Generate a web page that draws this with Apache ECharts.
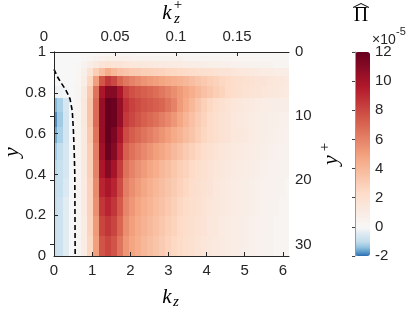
<!DOCTYPE html>
<html><head><meta charset="utf-8">
<script src="https://cdn.jsdelivr.net/npm/echarts@6/dist/echarts.min.js"></script>
<style>html,body{margin:0;padding:0;background:#fff}#c{width:415px;height:312px}</style>
</head><body><div id="c"></div>
<script>
// spanwise wavenumber (cell centres)
const kz = [0,0.157,0.314,0.471,0.628,0.785,0.942,1.100,1.257,1.414,1.571,1.728,1.885,2.042,2.199,2.356,2.513,2.670,2.827,2.985,3.142,3.299,3.456,3.613,3.770,3.927,4.084,4.241,4.398,4.555,4.712,4.869,5.027,5.184,5.341,5.498,5.655,5.812,5.969,6.126];
// wall-normal cell edges (top to bottom)
const yEdges = [1,0.9952,0.9808,0.9569,0.9239,0.8819,0.8315,0.7730,0.7071,0.6344,0.5556,0.4714,0.3827,0.2903,0.1951,0.0980,0];
const kzMax = 6.16, kzPlusMax = 0.1926, yPlusMax = 31.8;
const xTicks = 1, xPlusTicks = 0.05, yTicks = 0.2, yPlusTicks = 10;
const cbarMin = -2, cbarMax = 12, cbarTicks = 2;

// Pi-hat values (x1e-5), rows from the wall (y=1) down to y=0
const r00 = [0,0,0,0,0,0,0.1,0.1,0.1,0.1,0.1,0.1,0.1,0.1,0.1,0.1,0.1,0.1,0.1,0.1,0.1,0.1,0.1,0.1,0.1,0.1,0.1,0.1,0.1,0,0,0,0,0,0,0,0,0,0,0];
const r01 = [0,0,0,0,0,0.1,0.1,0.2,0.3,0.3,0.3,0.3,0.3,0.3,0.2,0.2,0.2,0.2,0.2,0.2,0.2,0.2,0.2,0.2,0.1,0.1,0.1,0.1,0.1,0.1,0.1,0.1,0.1,0.1,0.1,0.1,0.1,0.1,0.1,0.1];
const r02 = [0,0,0,0,0,0.2,0.3,0.5,0.6,0.7,0.6,0.6,0.6,0.5,0.5,0.5,0.5,0.4,0.4,0.4,0.4,0.4,0.3,0.3,0.3,0.3,0.3,0.3,0.2,0.2,0.2,0.2,0.2,0.2,0.2,0.1,0.1,0.1,0.1,0.1];
const r03 = [0,0,0,0,0.1,0.4,0.8,1.2,1.6,1.8,1.7,1.6,1.5,1.4,1.3,1.3,1.2,1.2,1.1,1.1,1.0,1.0,0.9,0.9,0.8,0.8,0.7,0.7,0.6,0.6,0.5,0.5,0.5,0.4,0.4,0.4,0.4,0.3,0.3,0.3];
const r04 = [0,0,0,0,0.2,0.7,1.8,3.0,3.8,4.5,4.0,3.6,3.4,3.2,3.1,3.0,2.9,2.8,2.7,2.6,2.5,2.4,2.3,2.2,2.1,2.0,1.9,1.8,1.7,1.6,1.5,1.4,1.3,1.2,1.1,1.0,1.0,0.9,0.9,0.8];
const r05 = [0,0,0,0,0.2,0.9,2.6,5.0,7.5,8.5,8.0,7.0,6.4,6.0,5.7,5.4,5.2,5.0,4.8,4.6,4.4,4.2,4.0,3.7,3.4,3.2,3.0,2.8,2.6,2.4,2.2,2.0,1.9,1.8,1.7,1.6,1.5,1.4,1.3,1.2];
const r06 = [-0.3,-0.2,-0.1,0,0.3,1.2,3.2,6.5,9.8,11.0,11.0,9.8,8.2,7.7,7.4,7.2,7.0,6.7,6.4,6.0,5.6,5.2,4.8,4.4,4.0,3.6,3.3,3.0,2.7,2.4,2.2,2.0,1.8,1.7,1.6,1.5,1.4,1.3,1.2,1.1];
const r07 = [-1.5,-1.2,-0.6,0,0.3,1.3,3.4,6.8,10.5,12.0,11.8,10.5,8.8,8.2,7.9,7.6,7.4,7.2,7.0,6.5,6.0,5.2,4.6,4.0,3.4,2.9,2.5,2.2,1.9,1.7,1.5,1.3,1.2,1.1,1.0,0.9,0.9,0.8,0.8,0.8];
const r08 = [-1.8,-1.3,-0.7,0,0.3,1.3,3.4,6.8,10.5,12.0,11.8,10.5,8.5,8.0,7.6,7.2,6.9,6.6,6.2,5.8,5.3,4.7,4.1,3.6,3.1,2.7,2.3,2.0,1.8,1.6,1.4,1.2,1.1,1.0,0.9,0.8,0.7,0.7,0.6,0.6];
const r09 = [-1.6,-1.2,-0.7,0,0.3,1.2,3.2,6.5,10.5,12.0,11.3,9.8,7.9,7.3,6.9,6.5,6.2,5.8,5.4,5.0,4.6,4.2,3.8,3.4,3.0,2.6,2.3,2.0,1.8,1.6,1.4,1.3,1.2,1.0,0.9,0.8,0.7,0.6,0.6,0.5];
const r10 = [-1.3,-1.0,-0.6,0,0.3,1.2,3.0,6.2,10.2,11.8,11.0,9.2,7.2,6.6,6.2,5.8,5.4,5.0,4.7,4.3,3.9,3.5,3.1,2.8,2.5,2.2,1.9,1.7,1.5,1.3,1.2,1.1,1.0,0.9,0.8,0.7,0.6,0.5,0.5,0.4];
const r11 = [-1.1,-0.9,-0.6,0,0.3,1.2,2.9,6.0,9.8,11.0,10.0,8.4,6.6,6.0,5.5,5.1,4.7,4.4,4.0,3.7,3.3,3.0,2.7,2.4,2.1,1.9,1.7,1.5,1.3,1.2,1.1,1.0,0.9,0.8,0.7,0.6,0.5,0.5,0.4,0.4];
const r12 = [-1.0,-0.9,-0.5,0,0.3,1.1,2.8,5.7,9.2,9.8,9.2,7.9,6.2,5.6,5.1,4.7,4.3,4.0,3.7,3.4,3.1,2.8,2.5,2.2,2.0,1.8,1.6,1.4,1.2,1.1,1.0,0.9,0.8,0.7,0.6,0.5,0.5,0.4,0.4,0.3];
const r13 = [-1.0,-0.8,-0.4,0,0.3,1.1,2.8,5.5,8.6,9.2,8.6,7.4,5.9,5.3,4.8,4.4,4.1,3.8,3.5,3.2,2.9,2.6,2.3,2.1,1.9,1.7,1.5,1.3,1.2,1.1,1.0,0.9,0.8,0.7,0.6,0.5,0.4,0.4,0.3,0.3];
const r14 = [-0.9,-0.8,-0.4,0,0.3,1.0,2.7,5.2,8.1,8.6,8.1,7.0,5.6,5.0,4.6,4.2,3.9,3.6,3.3,3.0,2.7,2.4,2.2,2.0,1.8,1.6,1.4,1.3,1.1,1.0,0.9,0.8,0.7,0.6,0.5,0.5,0.4,0.3,0.3,0.3];
const r15 = [-0.9,-0.8,-0.4,0,0.3,1.0,2.6,5.0,7.6,8.1,7.6,6.5,5.3,4.8,4.4,4.0,3.7,3.4,3.1,2.8,2.5,2.3,2.1,1.9,1.7,1.5,1.3,1.2,1.1,1.0,0.9,0.8,0.7,0.6,0.5,0.4,0.4,0.3,0.3,0.3];

// dashed curve
const curveKz = [0,0.1,0.2,0.29,0.36,0.42,0.48,0.51,0.53,0.545,0.55,0.555];
const curveY  = [0.915,0.875,0.845,0.82,0.795,0.77,0.71,0.61,0.51,0.4,0.2,0];

const rows = [r00,r01,r02,r03,r04,r05,r06,r07,r08,r09,r10,r11,r12,r13,r14,r15];
const cells = [];
rows.forEach((row, r) => {
  row.forEach((v, n) => {
    const xl = n === 0 ? 0 : (kz[n-1] + kz[n]) / 2;
    const xr = n === kz.length - 1 ? kzMax : Math.min(kzMax, (kz[n] + kz[n+1]) / 2);
    cells.push([xl, xr, yEdges[r+1], yEdges[r], v]);
  });
});
const curve = curveKz.map((k, i) => [k, curveY[i]]);

// colormap (style)
const anchors = [
  [-2,[44,108,176]],[-1.7,[95,160,205]],[-1.4,[148,196,223]],[-1.0,[197,222,237]],
  [-0.5,[219,233,242]],[-0.2,[240,243,245]],[0,[247,247,247]],[2.4,[253,219,199]],
  [4.8,[244,165,130]],[7.2,[214,96,77]],[9.6,[178,24,43]],[12,[103,0,31]]
];
function cm(v){
  for (let i=0;i<anchors.length-1;i++){
    const a=anchors[i], b=anchors[i+1];
    if (v>=a[0]-1e-9 && v<=b[0]+1e-9){
      const t=(v-a[0])/(b[0]-a[0]);
      const c=a[1].map((x,j)=>Math.round(x+(b[1][j]-x)*t));
      return 'rgb('+c.join(',')+')';
    }
  }
  return 'rgb(103,0,31)';
}
const cmap=[]; for(let s=0;s<=140;s++){ cmap.push(cm(cbarMin + s*(cbarMax-cbarMin)/140)); }

const axCol = '#262626';
const lab = {color:axCol, fontFamily:'Liberation Sans', fontSize:15};
const line = {show:true, lineStyle:{color:axCol, width:1}};
const tick = {show:true, inside:true, length:4, lineStyle:{color:axCol, width:1}};
const serif = 'Liberation Serif';

const chart = echarts.init(document.getElementById('c'), null, {renderer:'canvas'});
chart.setOption({
  animation:false,
  backgroundColor:'#fff',
  grid:[
    {left:54, top:52, width:235, height:204},
    {left:355, top:52, width:15, height:204}
  ],
  xAxis:[
    {gridIndex:0, type:'value', min:0, max:kzMax, interval:xTicks, position:'bottom', z:10,
     axisLine:line, axisTick:tick, splitLine:{show:false},
     axisLabel:Object.assign({margin:7, showMaxLabel:false}, lab)},
    {gridIndex:0, type:'value', min:0, max:kzPlusMax, interval:xPlusTicks, position:'top', z:10,
     axisLine:line, axisTick:tick, splitLine:{show:false},
     axisLabel:Object.assign({margin:8, showMaxLabel:false,
       formatter:v => v === 0 ? '{a|0}' : String(v),
       rich:{a:{fontFamily:'Liberation Sans', fontSize:15, color:axCol, padding:[0,20,0,0]}}}, lab)},
    {gridIndex:1, type:'value', min:0, max:1, show:false}
  ],
  yAxis:[
    {gridIndex:0, type:'value', min:0, max:1, interval:yTicks, position:'left', z:10,
     axisLine:line, axisTick:tick, splitLine:{show:false},
     axisLabel:Object.assign({margin:8}, lab)},
    {gridIndex:0, type:'value', min:0, max:yPlusMax, interval:yPlusTicks, inverse:true, position:'right', z:10,
     axisLine:line, axisTick:tick, splitLine:{show:false},
     axisLabel:Object.assign({margin:6, showMaxLabel:false}, lab)},
    {gridIndex:1, type:'value', min:cbarMin, max:cbarMax, interval:cbarTicks, position:'right', z:10,
     axisLine:{show:true, lineStyle:{color:'#9a9a9a', width:1}},
     axisTick:{show:true, inside:true, length:3, lineStyle:{color:'#444', width:1}},
     splitLine:{show:false},
     axisLabel:Object.assign({margin:5}, lab)}
  ],
  visualMap:{
    type:'continuous', seriesIndex:0, dimension:4, min:cbarMin, max:cbarMax,
    calculable:false, hoverLink:false, itemWidth:15, itemHeight:204, left:355, top:52, padding:0,
    inRange:{color:cmap}
  },
  series:[
    {type:'custom', xAxisIndex:0, yAxisIndex:0, clip:true, z:2,
     encode:{x:[0,1], y:[2,3]},
     data:cells,
     renderItem:function(params, api){
       const p0 = api.coord([api.value(0), api.value(3)]);
       const p1 = api.coord([api.value(1), api.value(2)]);
       const x0=Math.round(p0[0]), x1=Math.round(p1[0]), y0=Math.round(p0[1]), y1=Math.round(p1[1]);
       return {type:'rect', shape:{x:x0, y:y0, width:x1-x0, height:y1-y0},
               style:{fill:api.visual('color')}};
     }},
    {type:'line', xAxisIndex:0, yAxisIndex:0, data:curve, symbol:'none', z:5, silent:true,
     lineStyle:{color:'#000', width:1.6, type:[5,3]}}
  ],
  graphic:[
    {type:'text', x:12, y:152, rotation:Math.PI/2,
     style:{text:'y', fontStyle:'italic', fontSize:22, fontFamily:serif, fill:'#000', align:'center', verticalAlign:'middle', textAlign:'center', textVerticalAlign:'middle'}},
    {type:'text', x:167, y:297,
     style:{text:'k', fontStyle:'italic', fontSize:21, fontFamily:serif, fill:'#000', align:'center', verticalAlign:'middle', textAlign:'center', textVerticalAlign:'middle'}},
    {type:'text', x:176, y:302,
     style:{text:'z', fontStyle:'italic', fontSize:15, fontFamily:serif, fill:'#000', align:'center', verticalAlign:'middle', textAlign:'center', textVerticalAlign:'middle'}},
    {type:'text', x:167, y:13,
     style:{text:'k', fontStyle:'italic', fontSize:21, fontFamily:serif, fill:'#000', align:'center', verticalAlign:'middle', textAlign:'center', textVerticalAlign:'middle'}},
    {type:'text', x:177, y:19,
     style:{text:'z', fontStyle:'italic', fontSize:15, fontFamily:serif, fill:'#000', align:'center', verticalAlign:'middle', textAlign:'center', textVerticalAlign:'middle'}},
    {type:'text', x:178, y:5,
     style:{text:'+', fontSize:15, fontFamily:serif, fill:'#000', align:'center', verticalAlign:'middle', textAlign:'center', textVerticalAlign:'middle'}},
    {type:'text', x:331, y:160, rotation:Math.PI/2,
     style:{text:'y', fontStyle:'italic', fontSize:22, fontFamily:serif, fill:'#000', align:'center', verticalAlign:'middle', textAlign:'center', textVerticalAlign:'middle'}},
    {type:'text', x:325, y:147, rotation:Math.PI/2,
     style:{text:'+', fontSize:15, fontFamily:serif, fill:'#000', align:'center', verticalAlign:'middle', textAlign:'center', textVerticalAlign:'middle'}},
    {type:'text', x:361, y:16,
     style:{text:'Π', fontSize:20, fontFamily:serif, fill:'#000', align:'center', verticalAlign:'middle', textAlign:'center', textVerticalAlign:'middle'}},
    {type:'polyline', shape:{points:[[353,7.5],[361,3.5],[369,7.5]]}, style:{stroke:'#000', lineWidth:1, fill:null}},
    {type:'text', x:372, y:40,
     style:{text:'×10', fontSize:14, fontFamily:'Liberation Sans', fill:axCol, align:'left', verticalAlign:'middle', textAlign:'left', textVerticalAlign:'middle'}},
    {type:'text', x:396, y:32,
     style:{text:'-5', fontSize:11, fontFamily:'Liberation Sans', fill:axCol, align:'left', verticalAlign:'middle', textAlign:'left', textVerticalAlign:'middle'}}
  ]
});
</script></body></html>
